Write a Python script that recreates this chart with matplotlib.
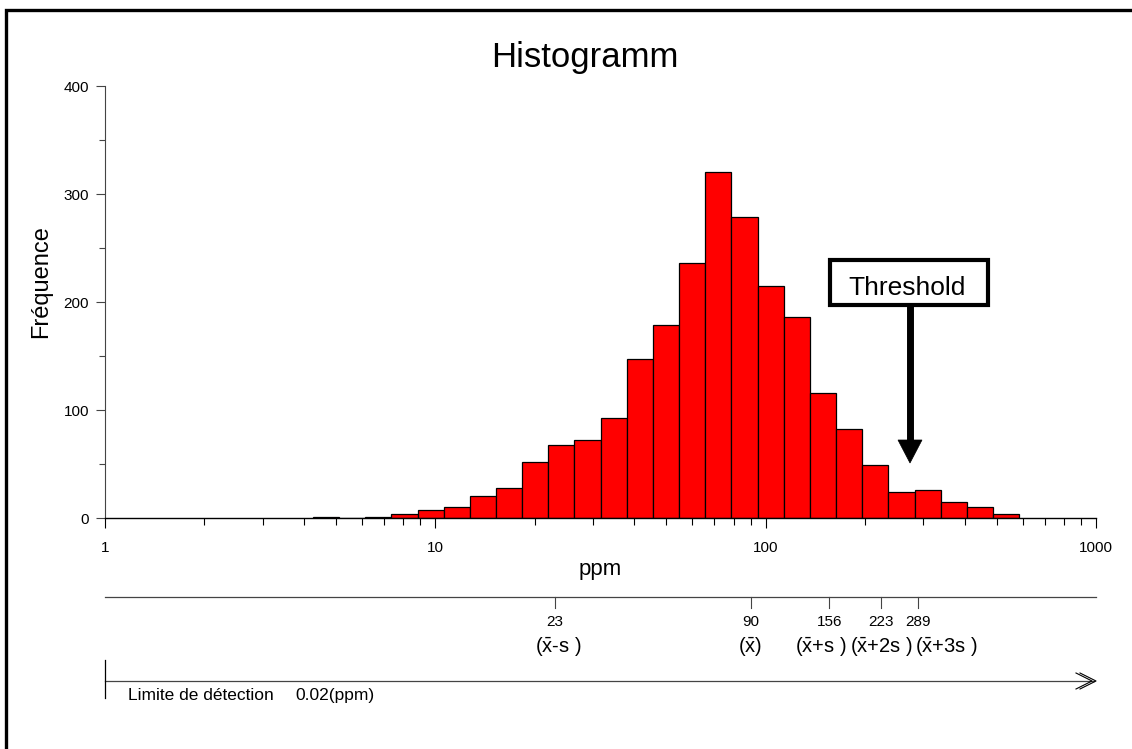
import numpy as np
import matplotlib
matplotlib.use('Agg')
import matplotlib.pyplot as plt
import matplotlib.transforms as mtransforms
from matplotlib.patches import Rectangle, Polygon
from matplotlib.ticker import FixedLocator, LogLocator, NullFormatter

plt.rcParams['font.family'] = ['Liberation Sans', 'DejaVu Sans']
plt.rcParams['mathtext.fontset'] = 'custom'
plt.rcParams['mathtext.rm'] = 'Liberation Sans'
plt.rcParams['mathtext.it'] = 'Liberation Sans'

# histogram: log spaced bins (first edge ~4.26 ppm, each bin 1.2x wider)
bin_start = 4.26
bin_ratio = 1.2
counts = [1, 0, 1, 4, 7, 10, 20, 28, 52, 68, 72, 93, 147, 179, 236,
          320, 279, 215, 186, 116, 82, 49, 24, 26, 15, 10, 4]
edges = bin_start * bin_ratio ** np.arange(len(counts) + 1)

# statistics scale under the chart
stat_values = [23, 90, 156, 223, 289]
stat_labels = [r'($\bar{\mathrm{x}}$-s )', r'($\bar{\mathrm{x}}$)', r'($\bar{\mathrm{x}}$+s )',
               r'($\bar{\mathrm{x}}$+2s )', r'($\bar{\mathrm{x}}$+3s )']
# labels are nudged sideways (pixels) so they do not collide
label_shift = [3, 0, -9, 1, 28]

x_ticks = [1, 10, 100, 1000]
y_ticks = [0, 100, 200, 300, 400]

W, H = 1132, 749
fig = plt.figure(figsize=(W / 100, H / 100), dpi=100)


def fx(px):
    return px / W


def fy(py):
    return 1 - py / H


ax = fig.add_axes([fx(105), fy(518), fx(1096) - fx(105), fy(86) - fy(518)])
ax.bar(edges[:-1], counts, width=np.diff(edges), align='edge',
       color='#ff0000', edgecolor='black', linewidth=0.9)
ax.set_xscale('log')
ax.set_xlim(1, 1000)
ax.set_ylim(0, 400)

ax.xaxis.set_major_locator(FixedLocator(x_ticks))
ax.set_xticklabels([str(v) for v in x_ticks])
ax.xaxis.set_minor_locator(LogLocator(base=10, subs=np.arange(2, 10)))
ax.xaxis.set_minor_formatter(NullFormatter())
ax.set_yticks(y_ticks)
ax.set_yticks([50, 150, 250, 350], minor=True)

ax.tick_params(axis='x', which='major', length=7.5, width=0.8, pad=9, labelsize=11)
ax.tick_params(axis='x', which='minor', length=5, width=0.8)
ax.tick_params(axis='y', which='major', length=6.5, width=0.8, pad=5, labelsize=11, color='#444')
ax.tick_params(axis='y', which='minor', length=4.3, width=0.8, color='#444')
ax.spines['top'].set_visible(False)
ax.spines['right'].set_visible(False)
ax.spines['left'].set_color('#444')
ax.spines['left'].set_linewidth(0.8)
ax.spines['bottom'].set_linewidth(1.0)

# overlay in pixel coordinates for the decorations
ov = fig.add_axes([0, 0, 1, 1])
ov.set_xlim(0, W)
ov.set_ylim(H, 0)
ov.axis('off')
ov.patch.set_alpha(0)
blend = mtransforms.blended_transform_factory(ax.transData, ov.transData)

# frame (left and top only)
ov.plot([5.5, 5.5, W], [H, 9.5, 9.5], color='black', lw=2.4, solid_joinstyle='miter')

ov.text(585, 66.5, 'Histogramm', fontsize=25, ha='center', va='baseline')
ov.text(41, 282, 'Fréquence', fontsize=17, rotation=90, ha='center', va='center')
ov.text(600, 569, 'ppm', fontsize=16, ha='center', va='center')

# threshold box and arrow
ov.add_patch(Rectangle((829.5, 260), 158.5, 45, fc='white', ec='black', lw=3))
ov.text(907, 295, 'Threshold', fontsize=19, ha='center', va='baseline')
ov.plot([910, 910], [306, 442], color='black', lw=5, solid_capstyle='butt')
ov.add_patch(Polygon([(898, 440), (922, 440), (910, 463)], closed=True, fc='black', ec='black', lw=0.5))

# statistics scale
ov.plot([105, 1096], [597, 597], color='#444', lw=0.9)
for v, lab, dx in zip(stat_values, stat_labels, label_shift):
    ov.plot([v, v], [597, 608], color='#444', lw=0.8, transform=blend)
    ov.text(v, 622, str(v), fontsize=11, ha='center', va='center', transform=blend)
    shift = mtransforms.ScaledTranslation(dx / 100, 0, fig.dpi_scale_trans)
    ov.text(v, 647, lab, fontsize=14.5, ha='center', va='center', transform=blend + shift)

# detection limit arrow
ov.plot([105, 1094], [681, 681], color='#444', lw=0.9)
ov.plot([105, 105], [660, 698], color='black', lw=0.9)
for dx in (0, 4):
    ov.plot([1080 - dx, 1096 - dx, 1080 - dx], [673, 681, 689], color='black', lw=0.8)
ov.text(128, 700, 'Limite de détection', fontsize=12.5, ha='left', va='baseline')
ov.text(295, 700, '0.02(ppm)', fontsize=12.5, ha='left', va='baseline')

fig.savefig('out.png', dpi=100)
